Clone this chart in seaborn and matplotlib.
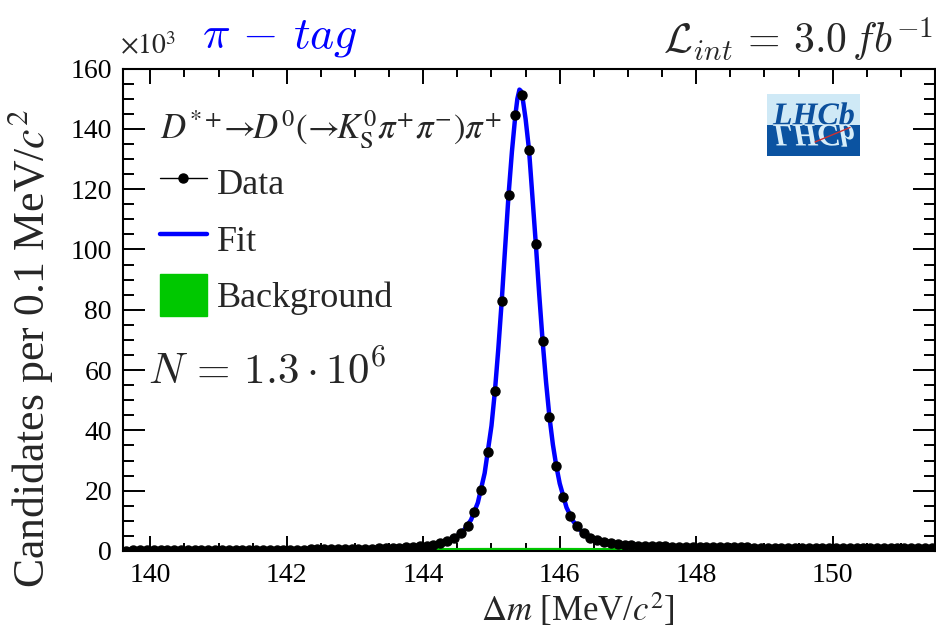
import numpy as np
import matplotlib
matplotlib.use("Agg")
import matplotlib.pyplot as plt
import seaborn as sns
from matplotlib.textpath import TextPath
from matplotlib.patches import PathPatch, Rectangle, Patch
from matplotlib.font_manager import FontProperties
from matplotlib.transforms import Affine2D
from matplotlib.lines import Line2D
from matplotlib.ticker import MultipleLocator

# ---- histogram of delta-m (0.1 MeV bins), counts in units of 10^3 ----
bin_lo = 139.6
bin_width = 0.1
counts_k = [
    0.15, 0.17, 0.19, 0.21, 0.23, 0.24, 0.25, 0.26, 0.27, 0.28,
    0.29, 0.30, 0.31, 0.32, 0.33, 0.34, 0.35, 0.36, 0.37, 0.38,
    0.39, 0.40, 0.41, 0.42, 0.44, 0.46, 0.48, 0.50, 0.52, 0.54,
    0.56, 0.58, 0.61, 0.64, 0.68, 0.72, 0.77, 0.83, 0.90, 0.98,
    1.07, 1.18, 1.32, 1.50, 1.75, 2.10, 2.60, 3.30, 4.40, 6.00,
    8.30, 12.8, 20.3, 32.8, 52.9, 82.8, 118.0, 144.5, 151.2, 133.1,
    101.8, 69.5, 44.4, 28.2, 17.8, 11.6, 8.3, 5.9, 4.4, 3.5,
    2.9, 2.5, 2.2, 2.0, 1.85, 1.75, 1.68, 1.62, 1.56, 1.51,
    1.47, 1.43, 1.39, 1.36, 1.33, 1.30, 1.27, 1.25, 1.23, 1.21,
    1.19, 1.17, 1.15, 1.13, 1.11, 1.09, 1.07, 1.05, 1.03, 1.01,
    1.00, 0.99, 0.98, 0.97, 0.96, 0.95, 0.94, 0.93, 0.92, 0.91,
    0.90, 0.89, 0.88, 0.87, 0.87, 0.86, 0.86, 0.85, 0.85,
]
bin_centres = bin_lo + bin_width * (np.arange(len(counts_k)) + 0.5)

# ---- total fit curve ----
fit_dm = [139.6, 140.0, 141.0, 142.0, 143.0, 143.5, 144.0, 144.2, 144.4, 144.5,
          144.6, 144.7, 144.8, 144.9, 145.0, 145.05, 145.1, 145.15, 145.2, 145.25,
          145.3, 145.35, 145.38, 145.41, 145.43, 145.45, 145.5, 145.55, 145.6, 145.65,
          145.7, 145.75, 145.8, 145.85, 145.9, 145.95, 146.0, 146.1, 146.2, 146.3,
          146.4, 146.5, 146.6, 146.8, 147.0, 147.5, 148.0, 149.0, 150.0, 151.5]
fit_k = [0.12, 0.24, 0.34, 0.43, 0.66, 0.95, 1.6, 2.3, 3.7, 5.0,
         7.0, 10.3, 16.0, 25.8, 41.5, 52.9, 67.0, 82.8, 100.5, 118.0,
         132.5, 144.5, 150.0, 153.0, 152.6, 151.2, 143.3, 133.1, 117.5, 101.8,
         85.0, 69.5, 56.0, 44.4, 35.3, 28.2, 22.4, 14.4, 9.8, 7.0,
         5.1, 3.9, 3.2, 2.4, 2.0, 1.65, 1.4, 1.17, 1.0, 0.85]

# ---- background component ----
bkg_dm = [139.6, 140.0, 141.0, 142.0, 143.0, 144.0, 145.0, 146.0, 147.0, 148.0, 150.0, 151.5]
bkg_k = [0.0, 0.35, 0.6, 0.8, 1.0, 1.15, 1.2, 1.2, 1.15, 1.05, 0.95, 0.85]

x_ticks = [140, 142, 144, 146, 148, 150]
y_ticks = [0, 20, 40, 60, 80, 100, 120, 140, 160]

FIT_BLUE = "#0000ff"
BKG_GREEN = "#00c800"

sns.set_theme(style="ticks")
plt.rcParams["font.family"] = ["Liberation Serif", "DejaVu Serif"]
plt.rcParams["mathtext.fontset"] = "custom"
plt.rcParams["mathtext.rm"] = "Liberation Serif"
plt.rcParams["mathtext.it"] = "Liberation Serif:italic"
plt.rcParams["mathtext.bf"] = "Liberation Serif:bold"

fig = plt.figure(figsize=(9.36, 6.32), dpi=100)
ax = fig.add_axes([123 / 936, 1 - 551 / 632, 812 / 936, 482.5 / 632])

ax.fill_between(bkg_dm, 0, bkg_k, color=BKG_GREEN, lw=0, zorder=1)
sns.lineplot(x=fit_dm, y=fit_k, ax=ax, color=FIT_BLUE, lw=3.2, sort=False,
             estimator=None, zorder=2)
ax.errorbar(bin_centres, counts_k, xerr=bin_width / 2, fmt="o", color="black",
            ms=6.5, elinewidth=1.0, capsize=0, zorder=3)

ax.set_xlim(139.6, 151.5)
ax.set_ylim(0, 160)
ax.set_xticks(x_ticks)
ax.set_yticks(y_ticks)
ax.xaxis.set_minor_locator(MultipleLocator(0.5))
ax.yaxis.set_minor_locator(MultipleLocator(5))
ax.tick_params(which="both", direction="in", top=True, right=True, width=1.4,
               labelsize=20, colors="black")
ax.tick_params(axis="x", which="major", length=11, pad=9)
ax.tick_params(axis="x", which="minor", length=6)
ax.tick_params(axis="y", which="major", length=16, pad=8)
ax.tick_params(axis="y", which="minor", length=8)
for sp in ax.spines.values():
    sp.set_linewidth(1.5)
    sp.set_color("black")
ax.set_xlabel("")
ax.set_ylabel("")

fig.text(578 / 936, 1 - 610 / 632, r"$\Delta m$ [MeV/$c^{2}$]", fontsize=25,
         ha="center", va="center", math_fontfamily="stix")
fig.text(30 / 936, 1 - 349 / 632, r"Candidates per 0.1 MeV/$c^{2}$", fontsize=31.5,
         rotation=90, ha="center", va="center", math_fontfamily="stix")
fig.text(120 / 936, 1 - 47 / 632, r"$\times10^{3}$", fontsize=20, ha="left", va="center",
         math_fontfamily="stix")

fig.text(280 / 936, 1 - 38 / 632, r"$\pi\,-\,tag$", fontsize=33, color=FIT_BLUE,
         ha="center", va="center", math_fontfamily="cm")
fig.text(933 / 936, 1 - 40 / 632, r"$\mathcal{L}_{int}\,=\,3.0\, fb^{-1}$", fontsize=30,
         ha="right", va="center", math_fontfamily="cm")

ax.text((160 - 123) / 812, (551 - 130) / 482.5,
        r"$D^{*+}\!\!\rightarrow\!\! D^{0}(\!\rightarrow\!\! K^{0}_{\rm S}\pi^{+}\pi^{-})\pi^{+}$",
        transform=ax.transAxes, fontsize=25, ha="left", va="center",
        math_fontfamily="stix")
ax.text((148 - 123) / 812, (551 - 372) / 482.5, r"$N\,=\,1.3\cdot 10^{6}$",
        transform=ax.transAxes, fontsize=31, ha="left", va="center",
        math_fontfamily="cm")

handles = [
    Line2D([0], [0], color="black", lw=1.0, marker="o", ms=6.5),
    Line2D([0], [0], color=FIT_BLUE, lw=3.2),
    Patch(facecolor=BKG_GREEN, edgecolor=BKG_GREEN),
]
leg = ax.legend(handles, ["Data", "Fit", "Background"], loc="upper left",
                bbox_to_anchor=((160 - 123) / 812, (551 - 161) / 482.5),
                frameon=False, fontsize=26, handlelength=1.3, handleheight=1.42,
                handletextpad=0.28, labelspacing=0.4, borderpad=0, borderaxespad=0)

# LHCb logo
lax = fig.add_axes([767 / 936, 1 - 156 / 632, 93 / 936, 62 / 632])
lax.set_xlim(0, 93)
lax.set_ylim(0, 62)
lax.axis("off")
lax.add_patch(Rectangle((0, 31.5), 93, 30.5, facecolor="#cfe9f6", edgecolor="none"))
lax.add_patch(Rectangle((0, 0), 93, 31.5, facecolor="#0b53a1", edgecolor="none"))
fp = FontProperties(family="Liberation Serif", style="italic", weight="bold")
tp = TextPath((0, 0), "LHCb", size=32, prop=fp)
lax.add_patch(PathPatch(tp, transform=Affine2D().translate(6, 31.5) + lax.transData,
                        facecolor="#0b4f9c", edgecolor="none"))
lax.add_patch(PathPatch(tp, transform=Affine2D().scale(1, -1).translate(6, 31.5) + lax.transData,
                        facecolor="#d8eef9", edgecolor="none"))
lax.plot([48, 83], [14, 28.5], color="#d03030", lw=1.0)

fig.savefig("out.png", dpi=100)
